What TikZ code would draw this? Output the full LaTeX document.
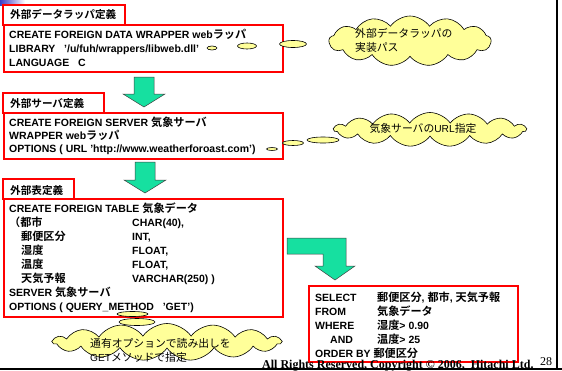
\documentclass[tikz,border=0pt]{standalone}
\usepackage{fontspec}
\setmainfont{Liberation Sans}
\newfontfamily\jp{Noto Sans CJK JP}[Scale=1.06,BoldFont={Noto Sans CJK JP Bold}]
\newfontfamily\serifft{Liberation Serif}
\usetikzlibrary{shapes.symbols,shapes.geometric}
\newcommand\J[1]{{\jp #1}}
\definecolor{arrowgreen}{RGB}{22,224,160}
\definecolor{cloudyellow}{RGB}{255,255,153}
\definecolor{cornerblue}{RGB}{60,60,200}
\tikzset{
  redbox/.style={draw=red, line width=1.5pt, inner sep=0pt, anchor=north west},
  txt/.style={anchor=base west, inner sep=0pt, align=left, font=\bfseries\fontsize{10.5}{14}\selectfont},
  ttl/.style={anchor=base west, inner sep=0pt, font=\bfseries\fontsize{10}{12}\selectfont},
  cloudtxt/.style={anchor=base west, inner sep=0pt, align=left, font=\fontsize{10.2}{14}\selectfont},
  bubble/.style={cloud, cloud ignores aspect, draw=black, fill=cloudyellow, line width=0.6pt, inner sep=0pt, cloud puff arc=110},
  tailbub/.style={ellipse, draw=black, fill=cloudyellow, line width=0.6pt, inner sep=0pt},
  blockarrow/.style={fill=arrowgreen, draw=black!75, line width=0.5pt, line join=miter},
}
\begin{document}
\begin{tikzpicture}[x=1pt,y=-1pt]
\useasboundingbox (0,0) rectangle (562,370);
% corner gradient
\shade[left color=cornerblue, right color=white] (0,0) rectangle (25,5);
% frame lines
\draw[line width=1.5pt] (557,0) -- (557,370);
\draw[line width=1.5pt] (0,369) -- (562,369);

% ---- box 1
\node[redbox, minimum width=122pt, minimum height=20pt] (t1) at (2,4) {};
\node[redbox, minimum width=279pt, minimum height=47pt] (b1) at (3,24) {};
\node[ttl] (t1x) at (10,18) {\J{外部データラッパ定義}};
% anchored at the baseline of the last line
\node[txt] (b1x) at (9,66) {CREATE FOREIGN DATA WRAPPER web\J{ラッパ}\\
LIBRARY\ \ \ '/u/fuh/wrappers/libweb.dll'\\
LANGUAGE\ \ \ C};

% ---- box 2
\node[redbox, minimum width=101pt, minimum height=20pt] (t2) at (2,92) {};
\node[redbox, minimum width=279pt, minimum height=46pt] (b2) at (3,112) {};
\node[ttl] (t2x) at (10,107) {\J{外部サーバ定義}};
\node[txt, font=\bfseries\fontsize{10.5}{13.3}\selectfont] (b2x) at (9,152.6) {CREATE FOREIGN SERVER \J{気象サーバ}\\
WRAPPER web\J{ラッパ}\\
OPTIONS ( URL 'http://www.weatherforoast.com')};

% ---- box 3
\node[redbox, minimum width=71pt, minimum height=20pt] (t3) at (2,178) {};
\node[redbox, minimum width=279pt, minimum height=118pt] (b3) at (3,198) {};
\node[ttl] (t3x) at (10,194) {\J{外部表定義}};
\node[txt, font=\bfseries\fontsize{10.5}{14.1}\selectfont] (b3x) at (9,310.7) {CREATE FOREIGN TABLE \J{気象データ}\\
\makebox[123pt][l]{\J{（都市}}CHAR(40),\\
\makebox[123pt][l]{\hspace{12pt}\J{郵便区分}}INT,\\
\makebox[123pt][l]{\hspace{12pt}\J{湿度}}FLOAT,\\
\makebox[123pt][l]{\hspace{12pt}\J{温度}}FLOAT,\\
\makebox[123pt][l]{\hspace{12pt}\J{天気予報}}VARCHAR(250) )\\
SERVER \J{気象サーバ}\\
OPTIONS ( QUERY\_METHOD\ \ \ 'GET')};

% ---- box 4
\node[redbox, minimum width=209pt, minimum height=76pt] (b4) at (308,285) {};
\node[txt] (b4x) at (315,357) {\makebox[62pt][l]{SELECT}\J{郵便区分}, \J{都市}, \J{天気予報}\\
\makebox[62pt][l]{FROM}\J{気象データ}\\
\makebox[62pt][l]{WHERE}\J{湿度}> 0.90\\
\makebox[62pt][l]{\hspace{15pt}AND}\J{温度}> 25\\
ORDER BY \J{郵便区分}};

% ---- arrows
\draw[blockarrow] (134,77) -- (154,77) -- (154,94) -- (165,94) -- (144,107) -- (123,94) -- (134,94) -- cycle;
\draw[blockarrow] (135,162) -- (155,162) -- (155,180) -- (166,180) -- (145,193) -- (124,180) -- (135,180) -- cycle;
\draw[blockarrow] (287,238) -- (346,238) -- (346,266) -- (355,266) -- (335,280) -- (315,266) -- (323,266) -- (323,254) -- (287,254) -- cycle;

% ---- cloud 1
\node[tailbub, minimum width=10pt, minimum height=4pt] (e11) at (212,48) {};
\node[tailbub, minimum width=19pt, minimum height=6pt] (e12) at (247,46) {};
\node[tailbub, minimum width=27pt, minimum height=7pt] (e13) at (293,44) {};
\node[bubble, cloud puffs=13, minimum width=162pt, minimum height=50pt] (c1) at (410,41) {};
\node[cloudtxt] (c1x) at (355,51) {\J{外部データラッパの}\\\J{実装パス}};

% ---- cloud 2
\node[tailbub, minimum width=11pt, minimum height=3pt] (e21) at (272,149) {};
\node[tailbub, minimum width=21pt, minimum height=5pt] (e22) at (293,143) {};
\node[tailbub, minimum width=32pt, minimum height=6pt] (e23) at (323,140) {};
\node[bubble, cloud puffs=15, minimum width=192pt, minimum height=34pt] (c2) at (430,129.5) {};
\node[cloudtxt, anchor=base] (c2x) at (423,132) {\J{気象サーバの}URL\J{指定}};

% ---- cloud 3
\node[tailbub, minimum width=31pt, minimum height=5pt] (e31) at (132.5,314) {};
\node[tailbub, minimum width=36pt, minimum height=7pt] (e32) at (137,322) {};
\node[bubble, cloud puffs=15, minimum width=228pt, minimum height=37pt] (c3) at (167,342) {};
\node[cloudtxt] (c3x) at (90,361) {\J{通有オプションで読み出しを}\\GET\J{メソッドで指定}};

% ---- footer
\node[anchor=base west, inner sep=0pt, font=\serifft\bfseries\fontsize{12}{14}\selectfont] (foot) at (262,368) {All Rights Reserved, Copyright © 2006,\ \ Hitachi Ltd.};
\node[anchor=base west, inner sep=0pt, font=\serifft\fontsize{12}{14}\selectfont] (page) at (540,365.5) {28};
\end{tikzpicture}
\end{document}
